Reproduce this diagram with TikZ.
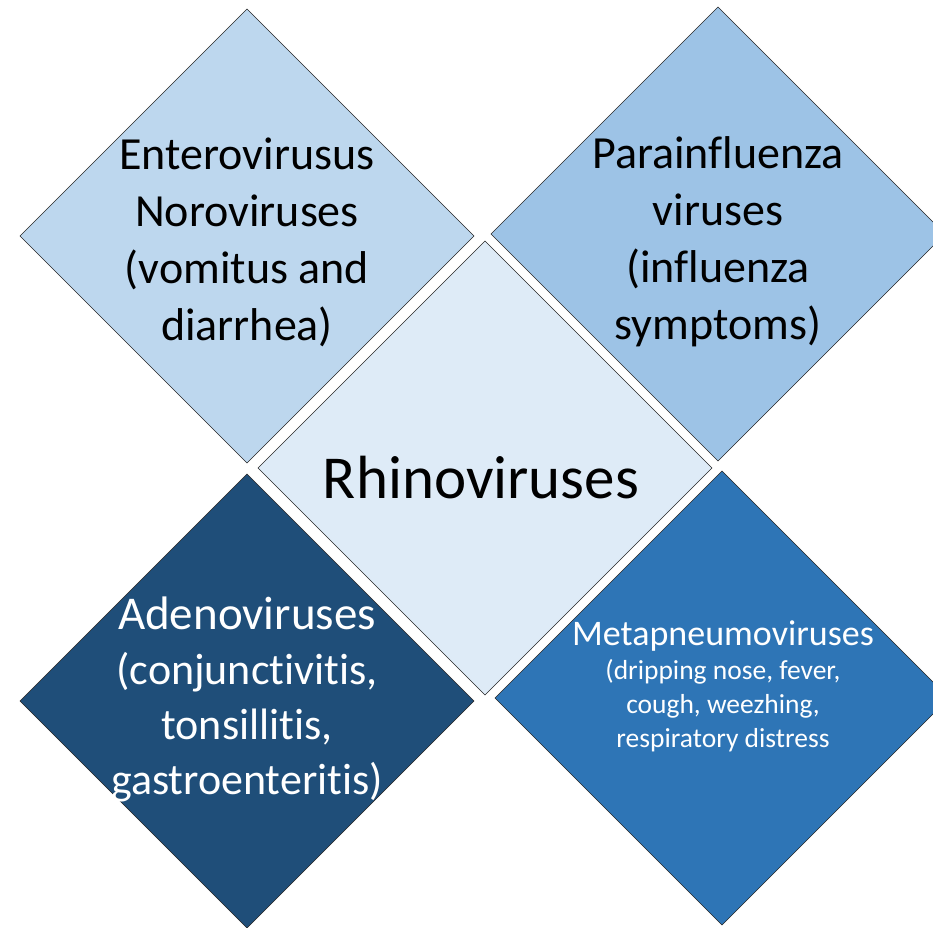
\documentclass[tikz,border=0pt]{standalone}
\usepackage{fontspec}
\setmainfont{Carlito}[Ligatures={NoCommon}]
\usetikzlibrary{shapes.geometric}
\definecolor{cTL}{HTML}{BDD7EE}
\definecolor{cTR}{HTML}{9DC3E6}
\definecolor{cC}{HTML}{DEEBF7}
\definecolor{cBL}{HTML}{1F4E79}
\definecolor{cBR}{HTML}{2E75B6}
\begin{document}
\begin{tikzpicture}[x=1pt,y=-1pt,
  dia/.style={diamond,draw=black!85,line width=0.6pt,inner sep=0pt,outer sep=0pt,
    minimum width=454pt,minimum height=454pt,aspect=1},
  lbl/.style={align=center,inner sep=0pt}]
\useasboundingbox (0,0) rectangle (933,927);
\clip (0,0) rectangle (933,927);
\node[dia,fill=cTL] (tl) at (247,236) {};
\node[dia,fill=cTR] (tr) at (718,234) {};
\node[dia,fill=cC] (c) at (485,468) {};
\node[dia,fill=cBL] (bl) at (247,701) {};
\node[dia,fill=cBR] (br) at (722,698) {};
\node[lbl,font=\fontsize{46}{57}\selectfont] (tlt) at (247,242) {Enterovirusus\\Noroviruses\\(vomitus and\\diarrhea)};
\node[lbl,font=\fontsize{46}{57}\selectfont] (trt) at (718,242) {Parainfluenza\\viruses\\(influenza\\symptoms)};
\node[lbl,font=\fontsize{61}{70}\selectfont] (ct) at (481,478) {Rhinoviruses};
\node[lbl,font=\fontsize{44}{55}\selectfont,text=white] (blt) at (247,699) {{\fontsize{47}{55}\selectfont Adenoviruses}\\(conjunctivitis,\\tonsillitis,\\gastroenteritis)};
\node[lbl,font=\fontsize{27.5}{34}\selectfont,text=white] (brt) at (723,686) {{\fontsize{36}{40}\selectfont Metapneumoviruses}\\(dripping nose, fever,\\cough, weezhing,\\respiratory distress};
\end{tikzpicture}
\end{document}
